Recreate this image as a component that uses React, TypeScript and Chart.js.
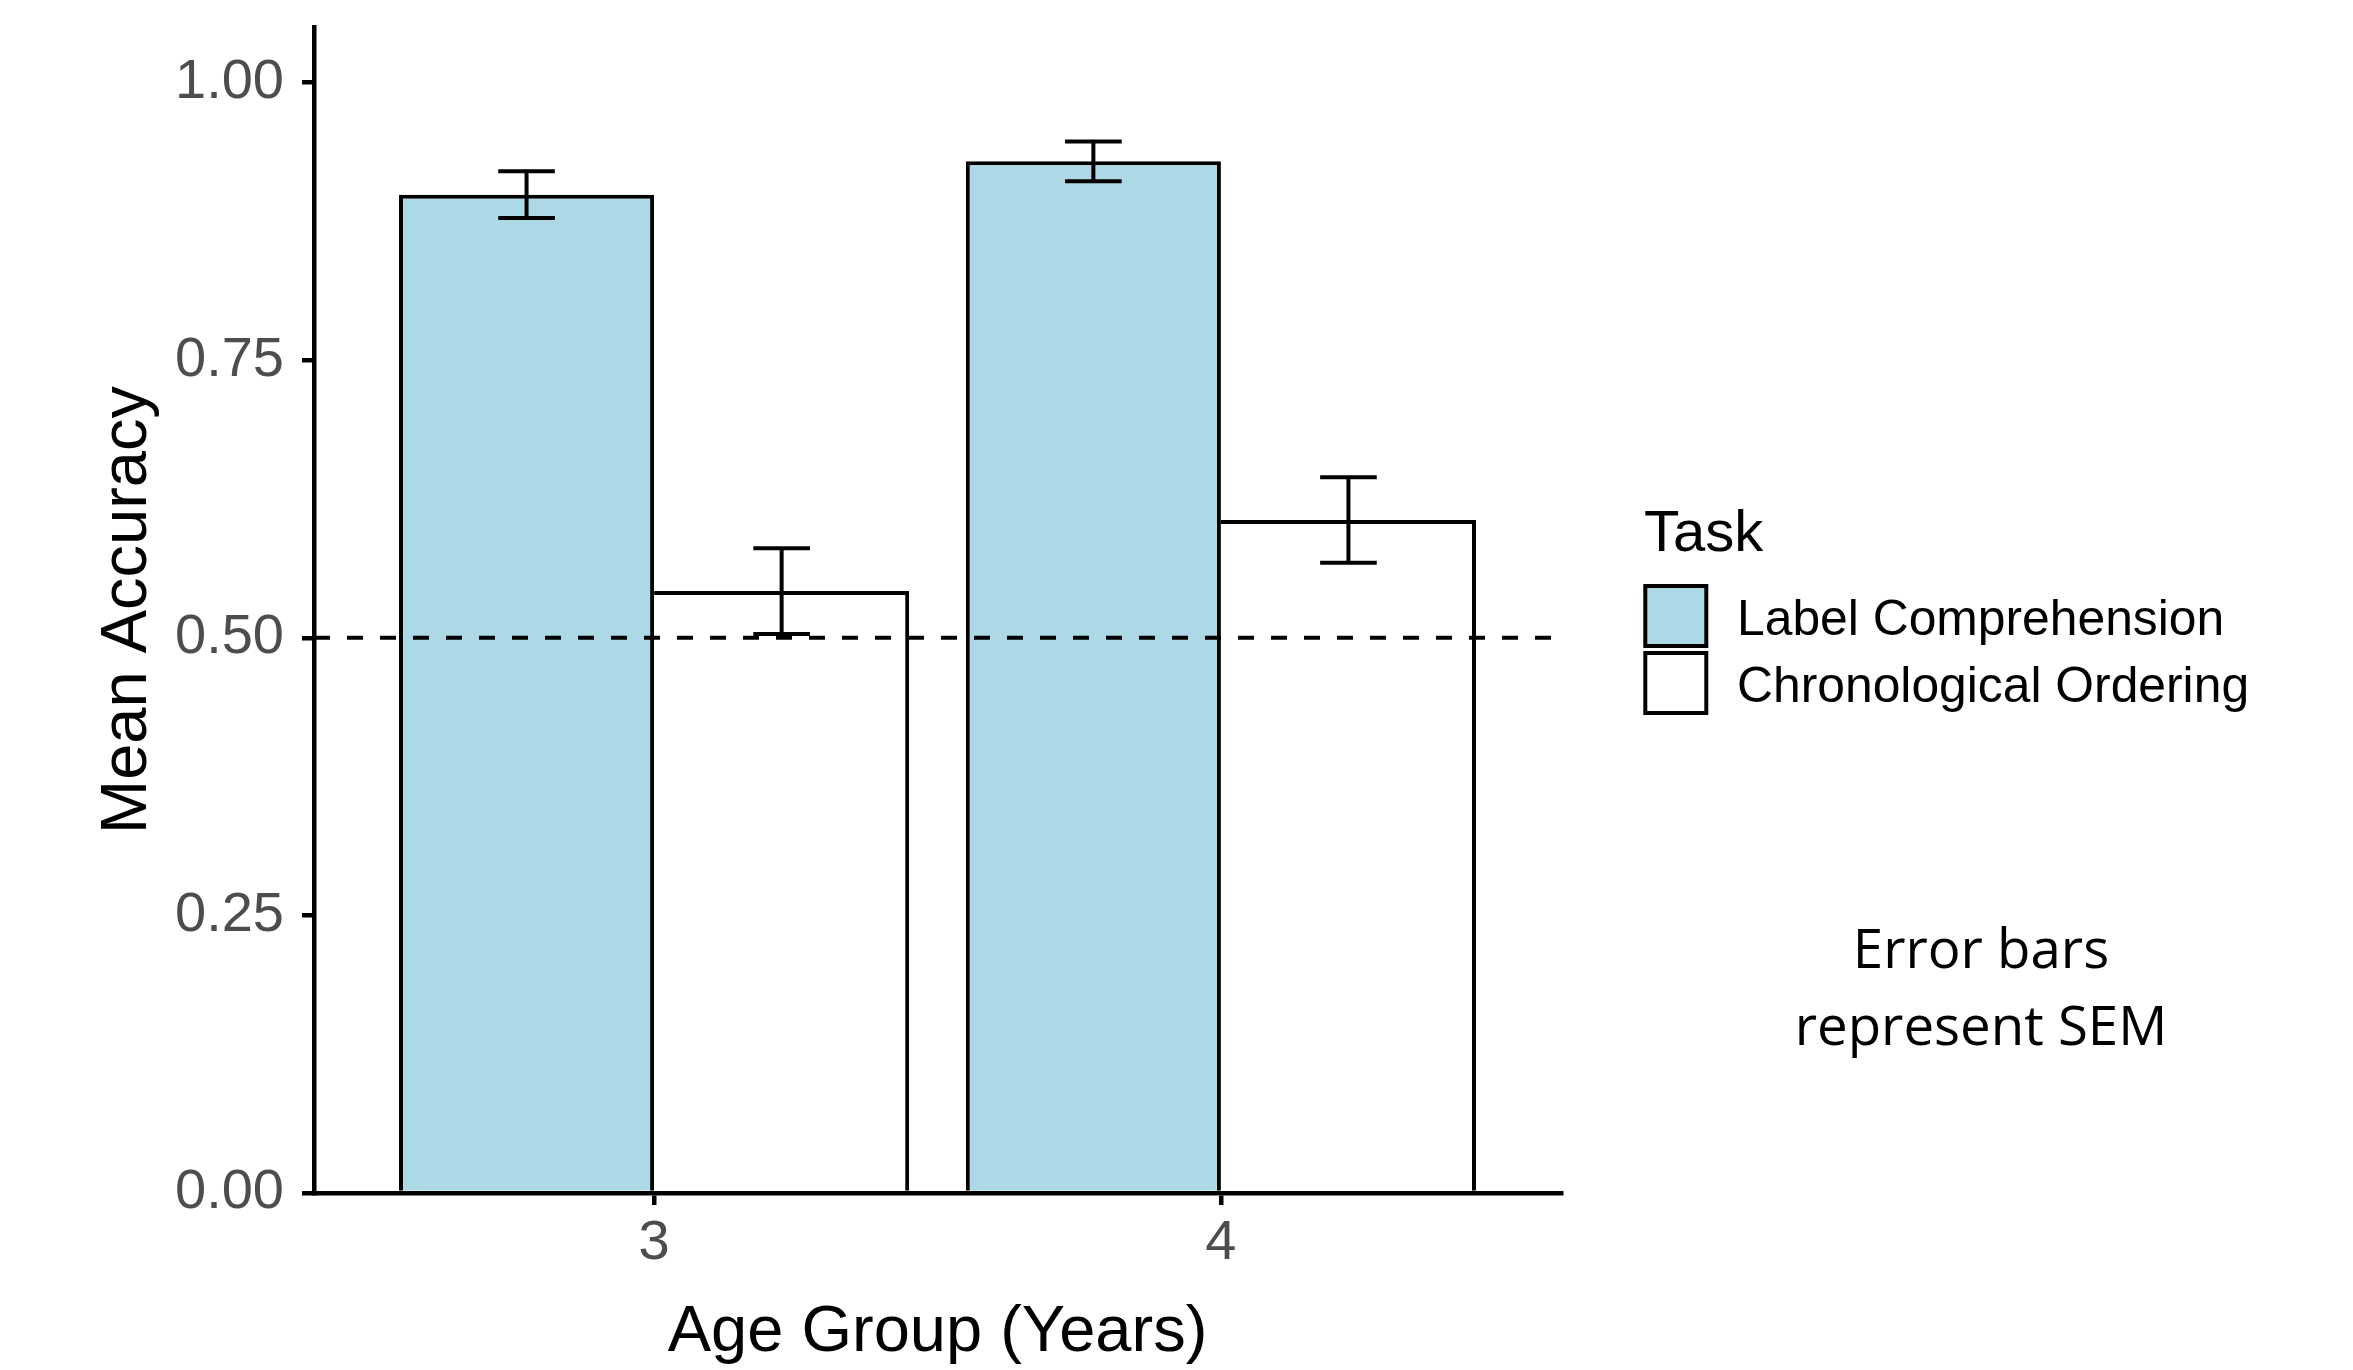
import React, { useEffect, useRef } from 'react';
import { Chart, registerables } from 'chart.js';

Chart.register(...registerables);

// ---- data ----
const categories = ['3', '4'];
const categoryPositions = [1, 2];
const seriesNames = ['Label Comprehension', 'Chronological Ordering'];
const labelComprehension = [0.899, 0.929];
const labelComprehensionSem = [0.021, 0.018];
const chronologicalOrdering = [0.542, 0.606];
const chronologicalOrderingSem = [0.0385, 0.0385];
const yTicks = [0, 0.25, 0.5, 0.75, 1.0];
const chanceLevel = 0.5;
const legendTitle = 'Task';
const noteLines = ['Error bars', 'represent SEM'];
const xTitle = 'Age Group (Years)';
const yTitle = 'Mean Accuracy';

const FONT = "'Liberation Sans', Arial, sans-serif";
const W = 2353;
const H = 1370;
const LINE = 4;

const overlayPlugin = {
  id: 'overlay',
  afterDatasetsDraw(chart: any) {
    const { ctx, chartArea, scales } = chart;
    const y = scales.y;
    // chance line
    ctx.save();
    ctx.strokeStyle = '#000';
    ctx.lineWidth = LINE;
    ctx.setLineDash([16, 17]);
    const yc = y.getPixelForValue(chanceLevel);
    ctx.beginPath();
    ctx.moveTo(chartArea.left, yc);
    ctx.lineTo(chartArea.right, yc);
    ctx.stroke();
    ctx.restore();

    // error bars
    ctx.save();
    ctx.strokeStyle = '#000';
    ctx.lineWidth = LINE;
    ctx.setLineDash([]);
    chart.data.datasets.forEach((ds: any, di: number) => {
      const meta = chart.getDatasetMeta(di);
      meta.data.forEach((bar: any, i: number) => {
        const v = ds.data[i].y;
        const s = ds.sem[i];
        const x = bar.x;
        const half = bar.width * 0.111;
        const yt = y.getPixelForValue(v + s);
        const yb = y.getPixelForValue(v - s);
        ctx.beginPath();
        ctx.moveTo(x, yt);
        ctx.lineTo(x, yb);
        ctx.moveTo(x - half, yt);
        ctx.lineTo(x + half, yt);
        ctx.moveTo(x - half, yb);
        ctx.lineTo(x + half, yb);
        ctx.stroke();
      });
    });
    ctx.restore();
  },
  afterDraw(chart: any) {
    const { ctx } = chart;
    ctx.save();
    // legend title
    ctx.fillStyle = '#000';
    ctx.textAlign = 'left';
    ctx.textBaseline = 'alphabetic';
    ctx.font = `58px ${FONT}`;
    ctx.fillText(legendTitle, 1644, 551);
    // legend keys
    const keyTops = [584, 651];
    const baselines = [635, 701.5];
    chart.data.datasets.forEach((ds: any, i: number) => {
      const top = keyTops[i];
      ctx.fillStyle = ds.backgroundColor;
      ctx.fillRect(1645.3, top + 2, 61, 60);
      ctx.strokeStyle = '#000';
      ctx.lineWidth = 4;
      ctx.strokeRect(1645.3, top + 2, 61, 60);
      ctx.fillStyle = '#000';
      ctx.font = `49.8px ${FONT}`;
      ctx.fillText(ds.label, 1737, baselines[i]);
    });
    // note
    ctx.textAlign = 'center';
    ctx.font = `54.6px 'Open Sans', 'Noto Sans', sans-serif`;
    ctx.fillText(noteLines[0], 1981, 968);
    ctx.fillText(noteLines[1], 1981, 1045);
    ctx.restore();
  },
};

export default function App() {
  const canvasRef = useRef<HTMLCanvasElement | null>(null);

  useEffect(() => {
    document.body.style.margin = '0';
    document.body.style.overflow = 'hidden';
    Chart.defaults.font.family = FONT;
    const canvas = canvasRef.current;
    if (!canvas) return;

    const gridOpts = {
      display: true,
      offset: false,
      drawOnChartArea: false,
      drawTicks: true,
      tickLength: 12,
      lineWidth: 4.5,
      tickWidth: 4.5,
      color: '#000',
      tickColor: '#000',
    };
    const borderOpts = { display: true, color: '#000', width: 4.5 };

    const chart = new Chart(canvas, {
      type: 'bar',
      data: {
        datasets: [
          {
            label: seriesNames[0],
            data: categoryPositions.map((x, i) => ({ x, y: labelComprehension[i] })),
            sem: labelComprehensionSem,
            backgroundColor: '#ADD8E6',
            borderColor: '#000',
            borderWidth: { top: LINE, left: LINE, right: LINE, bottom: 0 },
          } as any,
          {
            label: seriesNames[1],
            data: categoryPositions.map((x, i) => ({ x, y: chronologicalOrdering[i] })),
            sem: chronologicalOrderingSem,
            backgroundColor: '#FFFFFF',
            borderColor: '#000',
            borderWidth: { top: LINE, left: 0, right: LINE, bottom: 0 },
          } as any,
        ],
      },
      options: {
        animation: false,
        responsive: true,
        maintainAspectRatio: false,
        layout: { padding: { top: 27, right: 792, left: 0, bottom: 0 } },
        datasets: { bar: { categoryPercentage: 0.9, barPercentage: 1.0 } } as any,
        plugins: {
          legend: { display: false },
          tooltip: { enabled: false },
        },
        scales: {
          x: {
            type: 'linear',
            min: 0.4,
            max: 2.6,
            offset: false,
            afterBuildTicks: (s: any) => {
              s.ticks = categoryPositions.map((v) => ({ value: v }));
            },
            afterFit: (s: any) => {
              s.height = 177;
              s.paddingLeft = 0;
              s.paddingRight = 0;
            },
            ticks: {
              callback: (_v: any, i: number) => categories[i],
              font: { size: 56, lineHeight: 1 },
              color: '#4D4D4D',
              padding: 11,
              maxRotation: 0,
              autoSkip: false,
            },
            grid: gridOpts,
            border: borderOpts,
            title: {
              display: true,
              text: xTitle,
              color: '#000',
              font: { size: 65, lineHeight: 1 },
              padding: { top: 0, bottom: 4.5 },
            },
          } as any,
          y: {
            type: 'linear',
            min: 0,
            max: 1.05,
            afterBuildTicks: (s: any) => {
              s.ticks = yTicks.map((v) => ({ value: v }));
            },
            afterFit: (s: any) => {
              s.width = 314;
              s.paddingTop = 0;
              s.paddingBottom = 0;
            },
            ticks: {
              callback: (v: any) => Number(v).toFixed(2),
              font: { size: 56 },
              color: '#4D4D4D',
              padding: 18,
            },
            grid: gridOpts,
            border: borderOpts,
            title: {
              display: true,
              text: yTitle,
              color: '#000',
              font: { size: 65, lineHeight: 1 },
              padding: { top: 96, bottom: 0 },
            },
          } as any,
        },
      },
      plugins: [overlayPlugin],
    });

    return () => chart.destroy();
  }, []);

  return (
    <div style={{ width: W, height: H, position: 'relative', background: '#fff' }}>
      <canvas ref={canvasRef} />
    </div>
  );
}
